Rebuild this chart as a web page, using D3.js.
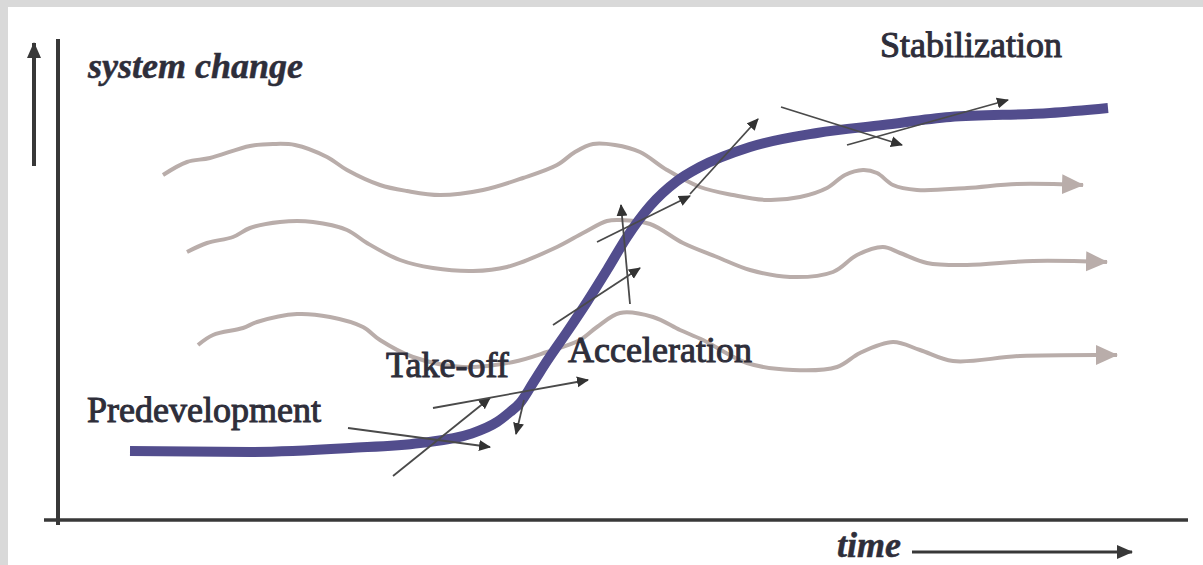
<!DOCTYPE html>
<html>
<head>
<meta charset="utf-8">
<script src="https://cdn.jsdelivr.net/npm/d3@7"></script>
<style>
body { margin: 0; background: #fff; }
svg { display: block; }
</style>
</head>
<body>
<script>
// values, in axis units: x = time, y = system change
var sCurve = [[72,69],[192,68],[292,72],[362,77],[412,86],[439,98],[452,108],[462,117],
    [475,137],[489,159],[509,188],[529,218],[549,250],[569,283],[592,314],[619,339],
    [642,353],[692,373],[759,387],[825,395],[892,403],[992,407],[1050,412]];

var waveTop = [[105,345],[129,358],[152,362],[192,374],[215,376],[237,375],[269,363],
    [289,350],[322,335],[349,329],[382,325],[425,330],[465,342],[499,355],[517,368],
    [535,376],[557,375],[582,368],[609,350],[642,333],[675,325],[709,320],[742,323],
    [769,332],[787,345],[805,350],[819,347],[835,335],[859,330],[909,332],[959,336],[1025,335]];

var waveMid = [[129,268],[149,277],[175,283],[192,292],[222,298],[255,298],[289,290],
    [309,277],[342,260],[375,252],[415,249],[449,253],[499,273],[525,287],[549,299],
    [562,300],[592,296],[625,277],[659,263],[692,250],[732,243],[775,248],[799,265],
    [825,273],[842,267],[869,257],[909,255],[975,259],[1049,258]];

var waveLow = [[140,175],[155,185],[185,192],[199,198],[239,206],[272,203],[305,193],
    [322,180],[355,163],[405,153],[455,158],[489,168],[522,180],[539,193],[562,207],
    [595,203],[622,190],[645,180],[689,157],[735,150],[779,153],[802,167],[835,178],
    [862,170],[895,159],[962,164],[1059,165]];

// small force vectors around the curve: [from, to]
var vectors = [
    [[290,92],[432,73]],
    [[335,44],[432,122]],
    [[375,112],[530,140]],
    [[466,120],[458,86]],
    [[495,195],[582,252]],
    [[572,216],[563,315]],
    [[539,278],[632,324]],
    [[632,326],[700,401]],
    [[723,413],[844,375]],
    [[789,375],[950,420]]
];

var phaseLabels = [
    {text: "Predevelopment", x: 29, y: 98},
    {text: "Take-off", x: 328, y: 143},
    {text: "Acceleration", x: 510, y: 158},
    {text: "Stabilization", x: 822, y: 463}
];
var axisTitles = [
    {text: "system change", x: 30, y: 442},
    {text: "time", x: 779, y: -37}
];

var W = 1203, H = 565;

var x = d3.scaleLinear().domain([0, 1130]).range([58, 1188]);
var y = d3.scaleLinear().domain([0, 480]).range([520, 40]);

var svg = d3.select("body").append("svg")
    .attr("width", W)
    .attr("height", H);

svg.append("rect").attr("width", W).attr("height", H).attr("fill", "#d9d9d9");
svg.append("rect").attr("x", 8).attr("y", 7).attr("width", W - 8).attr("height", H - 7).attr("fill", "#fff");

var defs = svg.append("defs");
defs.append("marker")
    .attr("id", "waveHead")
    .attr("markerUnits", "userSpaceOnUse")
    .attr("viewBox", "0 -11 23 22")
    .attr("refX", 21).attr("refY", 0)
    .attr("markerWidth", 23).attr("markerHeight", 22)
    .attr("orient", "auto")
    .append("path")
    .attr("d", "M0,-10L22,0L0,10Z")
    .attr("fill", "#b9adaa");
defs.append("marker")
    .attr("id", "vecHead")
    .attr("markerUnits", "userSpaceOnUse")
    .attr("viewBox", "0 -6 12 12")
    .attr("refX", 11).attr("refY", 0)
    .attr("markerWidth", 12).attr("markerHeight", 12)
    .attr("orient", "auto")
    .append("path")
    .attr("d", "M0,-5.5L12,0L0,5.5Z")
    .attr("fill", "#333");
defs.append("marker")
    .attr("id", "axisHead")
    .attr("markerUnits", "userSpaceOnUse")
    .attr("viewBox", "0 -8 16 16")
    .attr("refX", 15).attr("refY", 0)
    .attr("markerWidth", 16).attr("markerHeight", 16)
    .attr("orient", "auto")
    .append("path")
    .attr("d", "M0,-7L16,0L0,7Z")
    .attr("fill", "#383838");

// axes
var x0 = x(0), y0 = y(0);
svg.append("line")
    .attr("x1", x0).attr("x2", x0)
    .attr("y1", y(480) - 1).attr("y2", y0 + 5)
    .attr("stroke", "#383838").attr("stroke-width", 4);
svg.append("line")
    .attr("x1", x0 - 14).attr("x2", x(1130))
    .attr("y1", y0).attr("y2", y0)
    .attr("stroke", "#383838").attr("stroke-width", 3.5);

// direction arrows beside the axes
svg.append("line")
    .attr("x1", x0 - 24).attr("x2", x0 - 24)
    .attr("y1", y(354)).attr("y2", y(477))
    .attr("stroke", "#383838").attr("stroke-width", 4)
    .attr("marker-end", "url(#axisHead)");
svg.append("line")
    .attr("x1", x(854)).attr("x2", x(1074))
    .attr("y1", y(-32)).attr("y2", y(-32))
    .attr("stroke", "#383838").attr("stroke-width", 3)
    .attr("marker-end", "url(#axisHead)");

var line = d3.line()
    .x(function (d) { return x(d[0]); })
    .y(function (d) { return y(d[1]); })
    .curve(d3.curveCatmullRom);

svg.selectAll(".wave")
    .data([waveTop, waveMid, waveLow])
    .enter().append("path")
    .attr("class", "wave")
    .attr("d", line)
    .attr("fill", "none")
    .attr("stroke", "#b9adaa")
    .attr("stroke-width", 4)
    .attr("marker-end", "url(#waveHead)");

svg.append("path")
    .datum(sCurve)
    .attr("d", line.curve(d3.curveMonotoneX))
    .attr("fill", "none")
    .attr("stroke", "#524d8d")
    .attr("stroke-width", 10);

svg.selectAll(".vec")
    .data(vectors)
    .enter().append("line")
    .attr("class", "vec")
    .attr("x1", function (d) { return x(d[0][0]); })
    .attr("y1", function (d) { return y(d[0][1]); })
    .attr("x2", function (d) { return x(d[1][0]); })
    .attr("y2", function (d) { return y(d[1][1]); })
    .attr("stroke", "#4a4a4a")
    .attr("stroke-width", 1.8)
    .attr("marker-end", "url(#vecHead)");

svg.selectAll(".phase")
    .data(phaseLabels)
    .enter().append("text")
    .attr("class", "phase")
    .attr("x", function (d) { return x(d.x); })
    .attr("y", function (d) { return y(d.y); })
    .attr("font-family", "Liberation Serif, Times New Roman, serif")
    .attr("font-size", 36)
    .attr("fill", "#2e2e3a")
    .attr("stroke", "#2e2e3a")
    .attr("stroke-width", 1)
    .text(function (d) { return d.text; });

svg.selectAll(".title")
    .data(axisTitles)
    .enter().append("text")
    .attr("class", "title")
    .attr("x", function (d) { return x(d.x); })
    .attr("y", function (d) { return y(d.y); })
    .attr("font-family", "Liberation Serif, Times New Roman, serif")
    .attr("font-size", 36)
    .attr("font-weight", "bold")
    .attr("font-style", "italic")
    .attr("fill", "#2e2e3a")
    .attr("stroke", "#2e2e3a")
    .attr("stroke-width", 0.5)
    .text(function (d) { return d.text; });
</script>
</body>
</html>
